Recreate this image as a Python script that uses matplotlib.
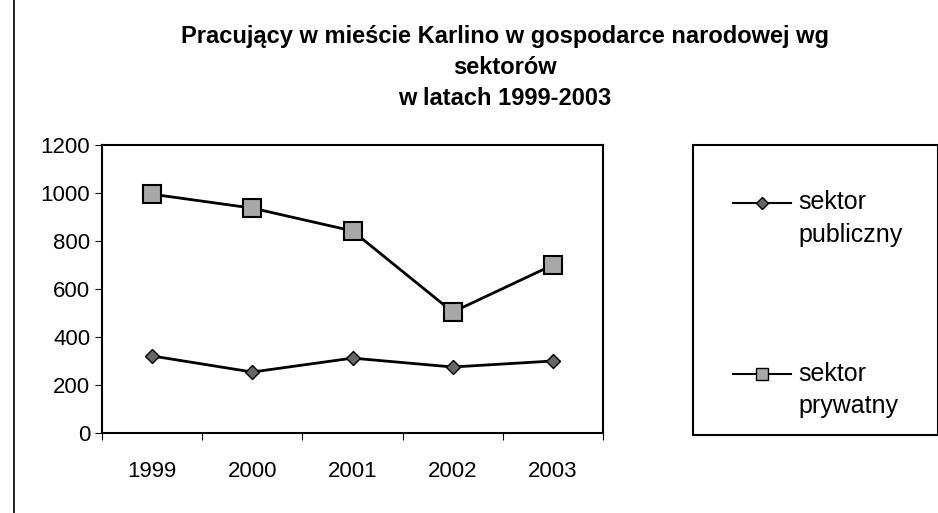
import numpy as np
import matplotlib.pyplot as plt
from matplotlib.patches import Rectangle
from matplotlib.lines import Line2D
from matplotlib.legend_handler import HandlerLine2D

years = ["1999", "2000", "2001", "2002", "2003"]
publiczny = [321, 254, 312, 275, 300]
prywatny = [995, 937, 842, 504, 700]
labels = ["sektor\npubliczny", "sektor\nprywatny"]

plt.rcParams["font.family"] = ["Liberation Sans", "DejaVu Sans"]


class RaisedHandler(HandlerLine2D):
    # put the legend line level with the first text line, as in the original
    def create_artists(self, legend, orig_handle, xdescent, ydescent,
                       width, height, fontsize, trans):
        arts = super().create_artists(legend, orig_handle, xdescent, ydescent,
                                      width, height, fontsize, trans)
        for a in arts:
            a.set_ydata(np.asarray(a.get_ydata()) + 6.5)
        return arts


fig = plt.figure(figsize=(9.38, 5.13), dpi=100)
ax = fig.add_axes([102 / 938, 1 - 433 / 513, 501 / 938, 288 / 513])

x = range(len(years))
ax.plot(x, publiczny, color="black", lw=2, marker="D", markersize=7,
        markerfacecolor="#666666", markeredgecolor="black", label=labels[0])
ax.plot(x, prywatny, color="black", lw=2, marker="s", markersize=13,
        markerfacecolor="#a8a8a8", markeredgecolor="black", markeredgewidth=1.5,
        label=labels[1])

ax.set_xlim(-0.5, len(years) - 0.5)
ax.set_ylim(0, 1200)
ax.set_yticks(range(0, 1201, 200))
ax.set_xticks([i - 0.5 for i in range(len(years) + 1)], minor=False)
ax.set_xticklabels([])
ax.set_xticks(list(x), minor=True)
ax.set_xticklabels(years, minor=True)
ax.tick_params(axis="x", which="minor", length=0, labelsize=16, pad=20)
ax.tick_params(axis="x", which="major", length=5, direction="out")
ax.tick_params(axis="y", labelsize=16, length=5, direction="out")
for s in ax.spines.values():
    s.set_linewidth(1.5)

fig.suptitle("Pracujący w mieście Karlino w gospodarce narodowej wg\nsektorów\nw latach 1999-2003",
             x=0.538, y=0.952, fontsize=17, fontweight="bold", linespacing=1.45)

# legend box
fig.patches.append(Rectangle((693 / 938, 1 - 435 / 513), 245 / 938, 290 / 513,
                             transform=fig.transFigure, fill=False,
                             edgecolor="black", lw=1.5))
handles = [
    Line2D([], [], color="black", lw=1.5, marker="D", markersize=6,
           markerfacecolor="#666666", markeredgecolor="black"),
    Line2D([], [], color="black", lw=1.5, marker="s", markersize=9,
           markerfacecolor="#a8a8a8", markeredgecolor="black"),
]
raised = RaisedHandler()
leg = fig.legend(handles, labels, loc="upper left", bbox_to_anchor=(733 / 938, 1 - 190 / 513),
                 frameon=False, fontsize=18, handlelength=2.3, handletextpad=0.3,
                 handleheight=2.6, labelspacing=4.6, borderpad=0, borderaxespad=0,
                 handler_map={h: raised for h in handles})
for t in leg.get_texts():
    t.set_linespacing(1.45)

# border line on left of the chart frame
fig.add_artist(Line2D([14 / 938, 14 / 938], [0, 1], transform=fig.transFigure,
                      color="black", lw=1.2))

fig.savefig("out.png", dpi=100)
